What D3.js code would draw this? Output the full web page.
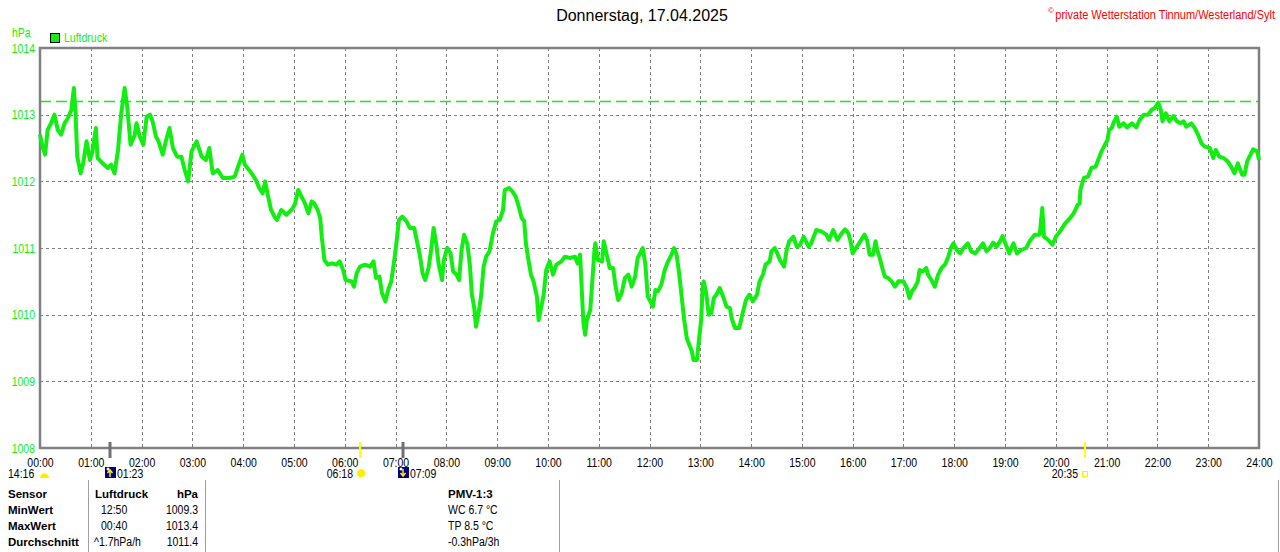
<!DOCTYPE html>
<html>
<head>
<meta charset="utf-8">
<script src="https://cdn.jsdelivr.net/npm/d3@7"></script>
<style>
  body { margin: 0; background: #fff; }
  svg { display: block; }
  text { font-family: 'Liberation Sans', Arial, sans-serif; }
</style>
</head>
<body>
<svg id="drawing_region"></svg>
<script>
// Luftdruck 17.04.2025, Minuten seit 00:00
const minutes = [
    0, 3, 6, 9, 13, 17, 21, 25, 29, 33, 37, 40, 42, 44, 48, 51, 55, 59, 62, 66, 68, 74, 80, 84, 88, 92, 96, 100,
    103, 107, 112, 114, 118, 122, 126, 130, 133, 137, 140, 145, 149, 153, 157, 162, 167, 171, 175, 179, 185, 191,
    196, 200, 204, 210, 216, 224, 230, 234, 239, 242, 250, 255, 259, 263, 266, 269, 273, 277, 280, 285, 291, 297,
    301, 305, 309, 313, 317, 321, 324, 328, 331, 333, 336, 340, 345, 350, 354, 358, 361, 368, 371, 374, 378, 384,
    390, 394, 397, 401, 404, 408, 412, 415, 418, 421, 424, 428, 433, 437, 442, 445, 449, 452, 455, 459, 462, 465,
    468, 471, 475, 477, 481, 485, 488, 492, 495, 498, 501, 505, 508, 510, 513, 515, 518, 521, 524, 527, 531, 535,
    539, 543, 547, 549, 554, 558, 562, 566, 569, 572, 574, 577, 580, 583, 587, 589, 593, 595, 598, 602, 606, 610,
    616, 620, 626, 632, 635, 638, 640, 642, 644, 646, 650, 652, 655, 656, 659, 664, 666, 670, 673, 677, 680, 683,
    687, 691, 695, 699, 703, 706, 709, 712, 715, 718, 721, 724, 727, 730, 734, 738, 742, 746, 749, 752, 755, 758,
    761, 764, 767, 770, 772, 776, 778, 781, 783, 784, 787, 790, 793, 796, 799, 803, 807, 811, 815, 817, 821, 826,
    830, 834, 838, 842, 847, 850, 854, 857, 862, 864, 868, 871, 874, 879, 882, 885, 890, 894, 898, 902, 908, 911,
    917, 923, 929, 932, 937, 942, 947, 951, 955, 958, 960, 964, 969, 974, 977, 980, 984, 987, 989, 992, 995, 998,
    1002, 1006, 1010, 1014, 1020, 1024, 1027, 1030, 1033, 1037, 1039, 1043, 1047, 1049, 1053, 1057, 1061, 1065,
    1069, 1073, 1076, 1079, 1083, 1087, 1091, 1096, 1100, 1105, 1110, 1114, 1118, 1122, 1126, 1130, 1134, 1137,
    1141, 1145, 1150, 1154, 1159, 1165, 1169, 1175, 1181, 1184, 1186, 1191, 1196, 1200, 1205, 1211, 1217, 1221,
    1226, 1228, 1229, 1233, 1238, 1242, 1247, 1250, 1254, 1258, 1261, 1263, 1266, 1269, 1272, 1275, 1280, 1284,
    1290, 1295, 1299, 1304, 1309, 1313, 1317, 1321, 1324, 1326, 1330, 1334, 1339, 1343, 1347, 1351, 1354, 1360,
    1364, 1368, 1372, 1376, 1382, 1386, 1389, 1393, 1398, 1403, 1407, 1411, 1415, 1420, 1423, 1426, 1430, 1433,
    1438, 1440
];
const pressure = [
    1012.70, 1012.52, 1012.40, 1012.77, 1012.87, 1013.00, 1012.77, 1012.70, 1012.87, 1012.95, 1013.07, 1013.40,
    1013.02, 1012.37, 1012.12, 1012.27, 1012.60, 1012.32, 1012.45, 1012.80, 1012.35, 1012.27, 1012.20, 1012.25,
    1012.12, 1012.45, 1013.02, 1013.40, 1013.12, 1012.55, 1012.70, 1012.87, 1012.67, 1012.55, 1012.97, 1013.00,
    1012.90, 1012.67, 1012.60, 1012.40, 1012.62, 1012.80, 1012.50, 1012.37, 1012.37, 1012.17, 1012.00, 1012.45,
    1012.60, 1012.37, 1012.32, 1012.50, 1012.12, 1012.17, 1012.05, 1012.05, 1012.07, 1012.22, 1012.40, 1012.25,
    1012.12, 1012.02, 1011.90, 1011.82, 1012.00, 1011.80, 1011.57, 1011.47, 1011.42, 1011.57, 1011.50, 1011.57,
    1011.65, 1011.87, 1011.77, 1011.67, 1011.52, 1011.70, 1011.67, 1011.57, 1011.45, 1011.15, 1010.82, 1010.75,
    1010.77, 1010.75, 1010.80, 1010.67, 1010.52, 1010.50, 1010.42, 1010.62, 1010.72, 1010.75, 1010.72, 1010.80,
    1010.55, 1010.57, 1010.32, 1010.20, 1010.40, 1010.50, 1010.77, 1011.07, 1011.42, 1011.47, 1011.40, 1011.30,
    1011.30, 1011.12, 1010.87, 1010.62, 1010.52, 1010.70, 1010.97, 1011.30, 1011.07, 1010.75, 1010.52, 1010.82,
    1011.00, 1010.92, 1010.65, 1010.60, 1010.52, 1010.97, 1011.20, 1011.05, 1010.72, 1010.32, 1010.10, 1009.82,
    1010.02, 1010.27, 1010.72, 1010.87, 1010.95, 1011.22, 1011.40, 1011.42, 1011.57, 1011.87, 1011.90, 1011.85,
    1011.77, 1011.60, 1011.45, 1011.40, 1011.07, 1010.82, 1010.60, 1010.50, 1010.27, 1009.92, 1010.17, 1010.30,
    1010.67, 1010.80, 1010.60, 1010.75, 1010.80, 1010.87, 1010.85, 1010.87, 1010.77, 1010.90, 1010.37, 1009.87,
    1009.70, 1009.92, 1010.07, 1010.42, 1010.97, 1011.07, 1010.82, 1010.80, 1011.10, 1010.87, 1010.70, 1010.70,
    1010.42, 1010.22, 1010.32, 1010.55, 1010.60, 1010.42, 1010.57, 1010.85, 1010.92, 1011.00, 1010.77, 1010.27,
    1010.20, 1010.12, 1010.37, 1010.35, 1010.45, 1010.67, 1010.80, 1010.90, 1011.00, 1010.90, 1010.62, 1010.27,
    1009.92, 1009.65, 1009.55, 1009.45, 1009.32, 1009.32, 1009.57, 1009.92, 1010.45, 1010.50, 1010.32, 1010.00,
    1010.02, 1010.25, 1010.30, 1010.40, 1010.27, 1010.12, 1010.10, 1009.95, 1009.80, 1009.80, 1010.02, 1010.22,
    1010.30, 1010.20, 1010.30, 1010.50, 1010.60, 1010.75, 1010.80, 1010.95, 1011.00, 1010.92, 1010.82, 1010.72,
    1010.97, 1011.10, 1011.17, 1011.02, 1011.05, 1011.17, 1011.02, 1011.07, 1011.27, 1011.25, 1011.20, 1011.12,
    1011.27, 1011.12, 1011.22, 1011.28, 1011.22, 1011.07, 1010.92, 1011.00, 1011.10, 1011.20, 1011.12, 1010.90,
    1010.90, 1011.10, 1010.97, 1010.85, 1010.70, 1010.57, 1010.55, 1010.50, 1010.42, 1010.50, 1010.50, 1010.40,
    1010.25, 1010.35, 1010.40, 1010.50, 1010.67, 1010.65, 1010.70, 1010.60, 1010.52, 1010.42, 1010.60, 1010.70,
    1010.75, 1010.87, 1011.00, 1011.07, 1010.97, 1010.92, 1011.00, 1011.07, 1010.95, 1010.92, 1011.00, 1011.07,
    1010.95, 1011.00, 1011.08, 1011.02, 1011.10, 1011.18, 1011.05, 1010.92, 1011.07, 1010.92, 1010.97, 1011.00,
    1011.10, 1011.20, 1011.20, 1011.60, 1011.17, 1011.12, 1011.05, 1011.17, 1011.25, 1011.37, 1011.45, 1011.52,
    1011.65, 1011.67, 1011.87, 1012.05, 1012.07, 1012.20, 1012.22, 1012.32, 1012.45, 1012.55, 1012.62, 1012.77,
    1012.80, 1012.90, 1012.97, 1012.82, 1012.87, 1012.81, 1012.87, 1012.81, 1012.92, 1013.00, 1013.00, 1013.07,
    1013.10, 1013.18, 1013.07, 1012.90, 1013.02, 1012.90, 1012.98, 1012.90, 1012.87, 1012.90, 1012.82, 1012.87,
    1012.80, 1012.70, 1012.57, 1012.52, 1012.50, 1012.35, 1012.47, 1012.37, 1012.35, 1012.30, 1012.22, 1012.12,
    1012.27, 1012.10, 1012.10, 1012.30, 1012.40, 1012.48, 1012.45, 1012.32
];
const refLevel = 1013.2;   // gestrichelte Linie
const yTicks = [1008, 1009, 1010, 1011, 1012, 1013, 1014];
const hourTicks = d3.range(0, 25);

// Mond/Sonne: Zeit, Art
const eventTimes = ['01:23', '06:18', '07:09', '20:35'];
const eventKinds = ['moonrise', 'sunrise', 'moonset', 'sunset'];
const dayLength = '14:16';

// Tabelle unten
const tableRows = ['Sensor', 'MinWert', 'MaxWert', 'Durchschnitt'];
const tableTimes = ['Luftdruck', '12:50', '00:40', '^1.7hPa/h'];
const tableValues = ['hPa', '1009.3', '1013.4', '1011.4'];
const tablePmv = ['PMV-1:3', 'WC 6.7 °C', 'TP 8.5 °C', '-0.3hPa/3h'];

const GREEN = '#12ee12';
const GRID = '#808080';
const SMALL = '12.5px';
const NARROW = 0.84;   // schmale Schrift nachbilden

const config = {
    width: 1280,
    height: 552,
    plot: {left: 40, top: 48, right: 1259, bottom: 448}
};

const toMin = s => { const p = s.split(':'); return +p[0] * 60 + +p[1]; };
const data = minutes.map((m, i) => ({t: m, v: pressure[i]}));

// Text schmaler machen (wie die Windows-Schrift im Original)
function condense(sel, k) {
    sel.each(function () {
        const w = this.getComputedTextLength();
        d3.select(this).attr('textLength', w * k).attr('lengthAdjust', 'spacingAndGlyphs');
    });
    return sel;
}

const svg = d3.select('#drawing_region')
    .attr('width', config.width)
    .attr('height', config.height);

const xscale = d3.scaleLinear().domain([0, 1440]).range([config.plot.left, config.plot.right]);
const yscale = d3.scaleLinear().domain([1008, 1014]).range([config.plot.bottom, config.plot.top]);

// Gitter
const grid = svg.append('g');
grid.selectAll('.hgrid')
    .data(yTicks.slice(1, -1))
    .enter().append('line')
    .attr('x1', config.plot.left).attr('x2', config.plot.right)
    .attr('y1', d => Math.round(yscale(d)) + 0.5).attr('y2', d => Math.round(yscale(d)) + 0.5)
    .attr('stroke', GRID).attr('stroke-dasharray', '3,3');
grid.selectAll('.vgrid')
    .data(hourTicks.slice(1, -1))
    .enter().append('line')
    .attr('x1', d => Math.round(xscale(d * 60)) + 0.5).attr('x2', d => Math.round(xscale(d * 60)) + 0.5)
    .attr('y1', config.plot.top).attr('y2', config.plot.bottom)
    .attr('stroke', GRID).attr('stroke-dasharray', '3,3');

// Referenzlinie
svg.append('line')
    .attr('x1', config.plot.left).attr('x2', config.plot.right)
    .attr('y1', Math.round(yscale(refLevel)) + 0.5).attr('y2', Math.round(yscale(refLevel)) + 0.5)
    .attr('stroke', GREEN).attr('stroke-width', 1.4).attr('stroke-dasharray', '11,5');

// Rahmen
svg.append('rect')
    .attr('x', config.plot.left).attr('y', config.plot.top)
    .attr('width', config.plot.right - config.plot.left)
    .attr('height', config.plot.bottom - config.plot.top)
    .attr('fill', 'none').attr('stroke', GRID).attr('stroke-width', 2.5);

// Luftdruck-Kurve
const line = d3.line()
    .x(d => xscale(d.t))
    .y(d => yscale(d.v));
svg.append('path')
    .datum(data)
    .attr('d', line)
    .attr('fill', 'none')
    .attr('stroke', GREEN)
    .attr('stroke-width', 4)
    .attr('stroke-linejoin', 'round');

// Achsen
const yaxis = d3.axisLeft(yscale).tickValues(yTicks).tickFormat(d3.format('d')).tickSize(0).tickPadding(5);
const yaxis_group = svg.append('g')
    .attr('transform', `translate(${config.plot.left}, 0)`)
    .call(yaxis);
yaxis_group.select('.domain').remove();
condense(yaxis_group.selectAll('text')
    .attr('fill', GREEN)
    .attr('font-family', null)
    .style('font-size', SMALL), NARROW);

const xaxis = d3.axisBottom(xscale)
    .tickValues(hourTicks.map(h => h * 60))
    .tickFormat(d => d3.format('02d')(d / 60) + ':00')
    .tickSize(0).tickPadding(10);
const xaxis_group = svg.append('g')
    .attr('transform', `translate(0, ${config.plot.bottom})`)
    .call(xaxis);
xaxis_group.select('.domain').remove();
condense(xaxis_group.selectAll('text')
    .attr('fill', '#000')
    .attr('font-family', null)
    .style('font-size', SMALL), NARROW);

// Texte oben
svg.append('text')
    .attr('x', 642).attr('y', 21)
    .attr('text-anchor', 'middle')
    .style('font-size', '16px')
    .text('Donnerstag, 17.04.2025');

svg.append('text')
    .attr('x', 1051).attr('y', 13)
    .attr('text-anchor', 'middle')
    .attr('fill', '#ff0000')
    .style('font-size', '8px')
    .text('©');
condense(svg.append('text')
    .attr('x', 1275).attr('y', 19)
    .attr('text-anchor', 'end')
    .attr('fill', '#ff0000')
    .style('font-size', SMALL)
    .text('private Wetterstation Tinnum/Westerland/Sylt'), 0.88);

condense(svg.append('text')
    .attr('x', 12).attr('y', 37)
    .attr('fill', GREEN)
    .style('font-size', SMALL)
    .text('hPa'), NARROW);

svg.append('rect')
    .attr('x', 50.5).attr('y', 33.5).attr('width', 9).attr('height', 9)
    .attr('fill', GREEN).attr('stroke', '#000');
condense(svg.append('text')
    .attr('x', 64).attr('y', 42)
    .attr('fill', GREEN)
    .style('font-size', SMALL)
    .text('Luftdruck'), NARROW);

// Sonne/Mond Marker
const events = svg.append('g');
eventTimes.forEach((s, i) => {
    const x = Math.round(xscale(toMin(s)));
    const kind = eventKinds[i];
    const isSun = kind.startsWith('sun');
    events.append('line')
        .attr('x1', x).attr('x2', x).attr('y1', 442).attr('y2', 458)
        .attr('stroke', isSun ? '#ffff00' : '#707070')
        .attr('stroke-width', isSun ? 2 : 3);

    if (kind === 'sunrise') {
        events.append('circle').attr('cx', x + 1).attr('cy', 473).attr('r', 4).attr('fill', '#ffee00');
        events.append('circle').attr('cx', x + 1).attr('cy', 473).attr('r', 6)
            .attr('fill', 'none').attr('stroke', '#ffee88').attr('stroke-dasharray', '1,2');
    } else if (kind === 'sunset') {
        events.append('rect').attr('x', x - 2.5).attr('y', 471.5).attr('width', 5).attr('height', 5)
            .attr('fill', 'none').attr('stroke', '#ffee00');
    } else {
        events.append('rect').attr('x', x - 5).attr('y', 467).attr('width', 11).attr('height', 11)
            .attr('fill', '#000080');
        events.append('circle').attr('cx', x - 2).attr('cy', 469).attr('r', 1.5).attr('fill', '#fff');
        const up = kind === 'moonrise';
        events.append('path')
            .attr('d', up
                ? `M${x},${477} L${x},${470} M${x - 2.5},${473} L${x},${470} L${x + 2.5},${473}`
                : `M${x},${469} L${x},${476} M${x - 2.5},${473} L${x},${476} L${x + 2.5},${473}`)
            .attr('stroke', '#ffee00').attr('stroke-width', 1.5).attr('fill', 'none');
    }

    condense(events.append('text')
        .attr('x', isSun ? x - 7 : x + 7)
        .attr('y', 478)
        .attr('text-anchor', isSun ? 'end' : 'start')
        .style('font-size', SMALL)
        .text(s), NARROW);
});

// Tageslänge
condense(svg.append('text')
    .attr('x', 8).attr('y', 478)
    .style('font-size', SMALL)
    .text(dayLength), NARROW);
svg.append('path')
    .attr('d', 'M40,478 A4.5,4.5 0 0 1 49,478 Z')
    .attr('fill', '#ffee00');

// Tabelle
const rowY = [498, 514, 530, 546];
[88, 205, 559, 1278].forEach(x => {
    svg.append('line')
        .attr('x1', x + 0.5).attr('x2', x + 0.5).attr('y1', 480).attr('y2', 552)
        .attr('stroke', '#a0a0a0');
});
function cell(x, y, s, bold, anchor) {
    const t = svg.append('text').attr('x', x).attr('y', y)
        .attr('text-anchor', anchor || 'start')
        .style('font-size', bold ? '11.5px' : SMALL)
        .style('font-weight', bold ? 'bold' : null)
        .text(s);
    if (!bold) condense(t, NARROW);
}
tableRows.forEach((s, i) => {
    cell(8, rowY[i], s, true);
    cell(i === 0 ? 95 : (i === 3 ? 94 : 101), rowY[i], tableTimes[i], i === 0);
    cell(198, rowY[i], tableValues[i], i === 0, 'end');
    cell(448, rowY[i], tablePmv[i], i === 0);
});
</script>
</body>
</html>
